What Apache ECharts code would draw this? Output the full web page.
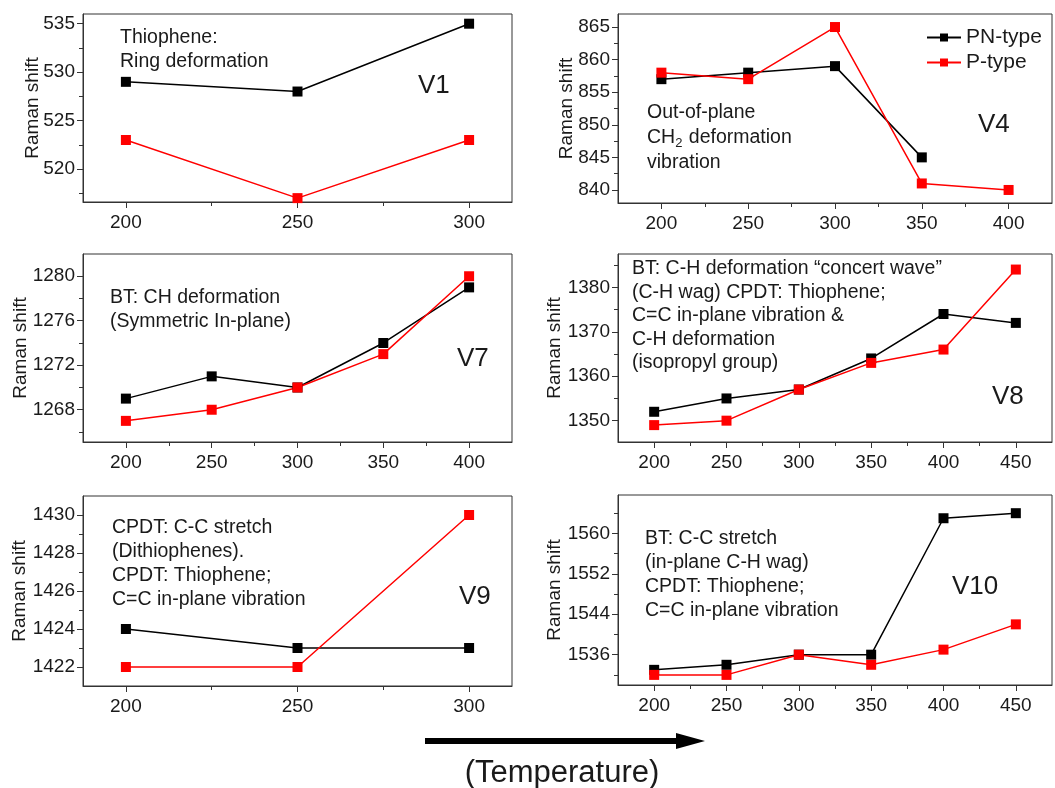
<!DOCTYPE html>
<html>
<head>
<meta charset="utf-8">
<script src="https://cdn.jsdelivr.net/npm/echarts@6/dist/echarts.min.js"></script>
<style>
  html, body { margin: 0; padding: 0; background: #fff; }
  #main { width: 1055px; height: 788px; }
</style>
</head>
<body>
<div id="main"></div>
<script>
// temperatures (x) per panel
var temps3 = [200, 250, 300];
var temps5 = [200, 250, 300, 350, 400];
var temps6 = [200, 250, 300, 350, 400, 450];

// Raman shift values, PN-type (black) and P-type (red)
var v1PN = [529, 528, 535];
var v1P = [523, 517, 523];
var v4PN = [857, 858, 859, 845];
var v4P = [858, 857, 865, 841, 840];
var v7PN = [1269, 1271, 1270, 1274, 1279];
var v7P = [1267, 1268, 1270, 1273, 1280];
var v8PN = [1352, 1355, 1357, 1364, 1374, 1372];
var v8P = [1349, 1350, 1357, 1363, 1366, 1384];
var v9PN = [1424, 1423, 1423];
var v9P = [1422, 1422, 1430];
var v10PN = [1533, 1534, 1536, 1536, 1563, 1564];
var v10P = [1532, 1532, 1536, 1534, 1537, 1542];

// tick labels (major) and minor tick positions
var xTicks3 = [200, 250, 300], xMinor3 = [225, 275];
var xTicks5 = [200, 250, 300, 350, 400], xMinor5 = [225, 275, 325, 375];
var xTicks6 = [200, 250, 300, 350, 400, 450], xMinor6 = [225, 275, 325, 375, 425];
var yTicks1 = [520, 525, 530, 535], yMinor1 = [517.5, 522.5, 527.5, 532.5];
var yTicks4 = [840, 845, 850, 855, 860, 865], yMinor4 = [842.5, 847.5, 852.5, 857.5, 862.5];
var yTicks7 = [1268, 1272, 1276, 1280], yMinor7 = [1266, 1270, 1274, 1278];
var yTicks8 = [1350, 1360, 1370, 1380], yMinor8 = [1355, 1365, 1375, 1385];
var yTicks9 = [1422, 1424, 1426, 1428, 1430], yMinor9 = [1423, 1425, 1427, 1429];
var yTicks10 = [1536, 1544, 1552, 1560], yMinor10 = [1532, 1540, 1548, 1556, 1564];

var FONT = "'Liberation Sans', Arial, sans-serif";
var TXT = '#1a1a1a';

function zip(xs, ys) {
  var out = [];
  for (var i = 0; i < ys.length; i++) out.push([xs[i], ys[i]]);
  return out;
}
function plain(v) { return String(v); }

// panel layout: grid box, axis ranges
var panels = [
  { grid: [83, 14, 429, 188], x: [187.5, 312.5], y: [516.6, 536], gap: 41,
    xt: xTicks3, xm: xMinor3, yt: yTicks1, ym: yMinor1,
    pn: zip(temps3, v1PN), p: zip(temps3, v1P) },
  { grid: [618, 14, 434, 189], x: [175, 425], y: [838, 867], gap: 42,
    xt: xTicks5, xm: xMinor5, yt: yTicks4, ym: yMinor4,
    pn: zip(temps5, v4PN), p: zip(temps5, v4P) },
  { grid: [83, 254, 429, 188], x: [175, 425], y: [1265.1, 1282], gap: 53,
    xt: xTicks5, xm: xMinor5, yt: yTicks7, ym: yMinor7,
    pn: zip(temps5, v7PN), p: zip(temps5, v7P) },
  { grid: [618, 254, 434, 188], x: [175, 475], y: [1345.2, 1387.5], gap: 54,
    xt: xTicks6, xm: xMinor6, yt: yTicks8, ym: yMinor8,
    pn: zip(temps6, v8PN), p: zip(temps6, v8P) },
  { grid: [83, 496, 429, 190], x: [187.5, 312.5], y: [1421, 1431], gap: 54,
    xt: xTicks3, xm: xMinor3, yt: yTicks9, ym: yMinor9,
    pn: zip(temps3, v9PN), p: zip(temps3, v9P) },
  { grid: [618, 495, 434, 190], x: [175, 475], y: [1530, 1567.6], gap: 54,
    xt: xTicks6, xm: xMinor6, yt: yTicks10, ym: yMinor10,
    pn: zip(temps6, v10PN), p: zip(temps6, v10P) }
];

var AX = '#333';
var grids = [], xAxes = [], yAxes = [], minorX = [], minorY = [], series = [];
panels.forEach(function (pl, i) {
  grids.push({
    left: pl.grid[0], top: pl.grid[1], width: pl.grid[2], height: pl.grid[3],
    show: true, borderColor: AX, borderWidth: 1, backgroundColor: 'transparent'
  });
  xAxes.push({
    type: 'value', gridIndex: i, min: pl.x[0], max: pl.x[1],
    splitLine: { show: false },
    axisLine: { onZero: false, lineStyle: { color: AX, width: 1 } },
    axisTick: { length: 6, customValues: pl.xt, lineStyle: { color: AX } },
    axisLabel: { customValues: pl.xt, formatter: plain, fontSize: 19, fontFamily: FONT, color: TXT, margin: 11 }
  });
  yAxes.push({
    type: 'value', gridIndex: i, min: pl.y[0], max: pl.y[1],
    name: 'Raman shift', nameLocation: 'middle', nameGap: pl.gap, nameMoveOverlap: false,
    nameTextStyle: { fontSize: 19, fontFamily: FONT, color: TXT },
    splitLine: { show: false },
    axisLine: { onZero: false, lineStyle: { color: AX, width: 1 } },
    axisTick: { length: 6, customValues: pl.yt, lineStyle: { color: AX } },
    axisLabel: { customValues: pl.yt, formatter: plain, fontSize: 19, fontFamily: FONT, color: TXT, margin: 8 }
  });
  // second pair of axes, only for the short minor ticks
  minorX.push({
    type: 'value', gridIndex: i, min: pl.x[0], max: pl.x[1], position: 'bottom',
    splitLine: { show: false }, axisLine: { show: false, onZero: false },
    axisTick: { length: 4, customValues: pl.xm, lineStyle: { color: AX } },
    axisLabel: { show: false }
  });
  minorY.push({
    type: 'value', gridIndex: i, min: pl.y[0], max: pl.y[1], position: 'left',
    splitLine: { show: false }, axisLine: { show: false, onZero: false },
    axisTick: { length: 4, customValues: pl.ym, lineStyle: { color: AX } },
    axisLabel: { show: false }
  });
  series.push({
    name: 'PN-type', type: 'line', xAxisIndex: i, yAxisIndex: i, data: pl.pn,
    symbol: 'rect', symbolSize: 10, color: '#000',
    lineStyle: { width: 1.5, color: '#000' }, itemStyle: { color: '#000' }
  });
  series.push({
    name: 'P-type', type: 'line', xAxisIndex: i, yAxisIndex: i, data: pl.p,
    symbol: 'rect', symbolSize: 10, color: '#ff0000',
    lineStyle: { width: 1.5, color: '#ff0000' }, itemStyle: { color: '#ff0000' }
  });
});

function note(x, top, lines, lh) {
  return { type: 'text', x: x, y: top,
    style: { text: lines.join('\n'), fontSize: 19.5, fontFamily: FONT, fill: TXT,
      lineHeight: lh || 24, verticalAlign: 'top' } };
}
function tag(x, y, s) {
  return { type: 'text', x: x, y: y,
    style: { text: s, fontSize: 26, fontFamily: FONT, fill: TXT, verticalAlign: 'middle' } };
}

var graphics = [
  note(120, 25.5, ['Thiophene:', 'Ring deformation']),
  { type: 'text', x: 647, y: 100.5,
    style: {
      text: '{a|Out-of-plane}\n{a|CH}{b|2}{a| deformation}\n{a|vibration}',
      fontFamily: FONT, fill: TXT, verticalAlign: 'top',
      rich: {
        a: { fontSize: 19.5, fontFamily: FONT, lineHeight: 25, fill: TXT },
        b: { fontSize: 13, fontFamily: FONT, lineHeight: 25, fill: TXT, padding: [10, 1, 0, 0] }
      }
    } },
  note(110, 286, ['BT: CH deformation', '(Symmetric In-plane)']),
  note(632, 257, ['BT: C-H deformation \u201cconcert wave\u201d', '(C-H wag) CPDT: Thiophene;',
    'C=C in-plane vibration &', 'C-H deformation', '(isopropyl group)'], 23.5),
  note(112, 516, ['CPDT: C-C stretch', '(Dithiophenes).', 'CPDT: Thiophene;', 'C=C in-plane vibration']),
  note(645, 527, ['BT: C-C stretch', '(in-plane C-H wag)', 'CPDT: Thiophene;', 'C=C in-plane vibration']),
  tag(418, 86, 'V1'),
  tag(978, 125, 'V4'),
  tag(457, 359, 'V7'),
  tag(992, 397, 'V8'),
  tag(459, 597, 'V9'),
  tag(952, 587, 'V10'),
  // temperature arrow
  { type: 'rect', shape: { x: 425, y: 738, width: 255, height: 6 }, style: { fill: '#000' } },
  { type: 'polygon', shape: { points: [[676, 733], [705, 741], [676, 749]] }, style: { fill: '#000' } },
  { type: 'text', x: 562, y: 773,
    style: { text: '(Temperature)', fontSize: 31, fontFamily: FONT, fill: TXT,
      align: 'center', verticalAlign: 'middle' } }
];

var chart = echarts.init(document.getElementById('main'));
var option = {
  backgroundColor: '#fff',
  animation: false,
  textStyle: { fontFamily: FONT },
  legend: {
    data: ['PN-type', 'P-type'], orient: 'vertical', left: 921, top: 22,
    itemWidth: 34, itemHeight: 10, itemGap: 4,
    textStyle: { fontSize: 21, fontFamily: FONT, color: TXT }
  },
  grid: grids,
  xAxis: xAxes.concat(minorX),
  yAxis: yAxes.concat(minorY),
  series: series,
  graphic: graphics
};
chart.setOption(option);
</script>
</body>
</html>
